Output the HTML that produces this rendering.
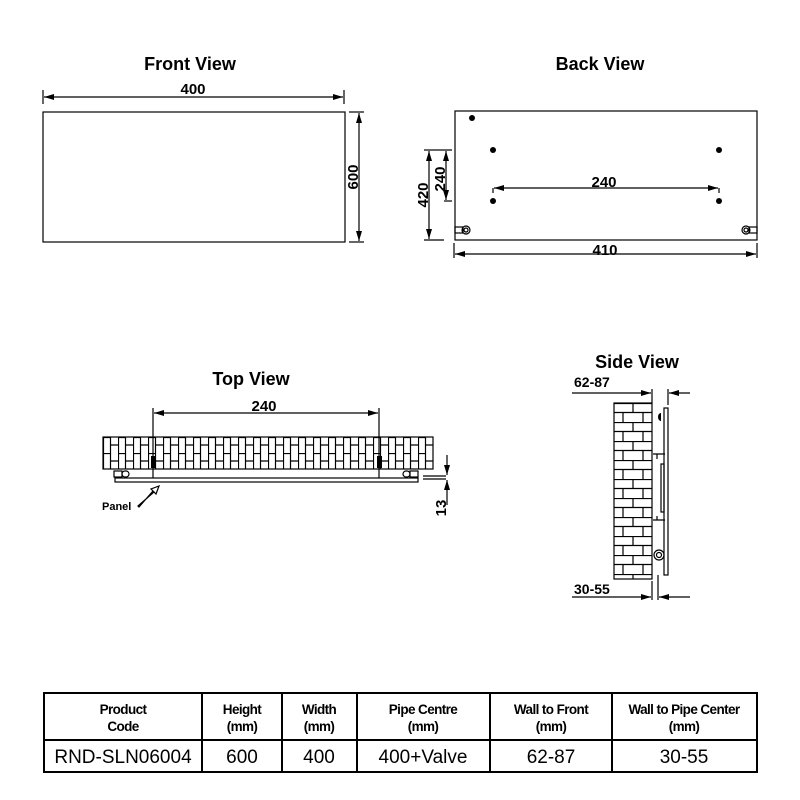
<!DOCTYPE html>
<html><head><style>
body{margin:0;background:#fff;}
svg{display:block;font-family:"Liberation Sans",Arial,sans-serif;}
</style></head><body>
<svg width="800" height="800" viewBox="0 0 800 800" xmlns="http://www.w3.org/2000/svg">
<defs>
<marker id="a" viewBox="0 0 10 6" refX="10" refY="3" markerWidth="10" markerHeight="6" orient="auto-start-reverse" markerUnits="userSpaceOnUse"><path d="M0,0 L10,3 L0,6 z" fill="#000"/></marker>
<pattern id="tb" x="103" y="437" width="15" height="16" patternUnits="userSpaceOnUse">
<rect width="15" height="16" fill="#fff"/>
<path d="M0,0.5 H7.5 M7.5,8 H15 M0.5,0 V16 M7.5,0 V16" stroke="#000" stroke-width="1.2" fill="none"/>
</pattern>
<pattern id="sb" x="614" y="403" width="38" height="19" patternUnits="userSpaceOnUse">
<rect width="38" height="19" fill="#fff"/>
<path d="M0,0.5 H38 M0,9.5 H38 M19,0 V9.5 M9,9.5 V19 M29,9.5 V19" stroke="#000" stroke-width="1.2" fill="none"/>
</pattern>
</defs>
<g font-weight="bold" font-size="18" text-anchor="middle">
<text x="190" y="70">Front View</text>
<text x="600" y="70">Back View</text>
<text x="251" y="385">Top View</text>
<text x="637" y="368">Side View</text>
</g>
<g stroke="#000" fill="none" stroke-width="1.2">
<rect x="43" y="112" width="302" height="130"/>
<line x1="43" y1="90" x2="43" y2="104"/><line x1="344" y1="90" x2="344" y2="104"/>
<line x1="44" y1="97" x2="343" y2="97" marker-start="url(#a)" marker-end="url(#a)"/>
<line x1="349" y1="112" x2="364" y2="112"/><line x1="349" y1="242" x2="364" y2="242"/>
<line x1="359" y1="113" x2="359" y2="241" marker-start="url(#a)" marker-end="url(#a)"/>
<rect x="455" y="111" width="302" height="129"/>
<line x1="493" y1="188" x2="493" y2="193"/><line x1="719" y1="188" x2="719" y2="193"/>
<line x1="494" y1="188" x2="718" y2="188" marker-start="url(#a)" marker-end="url(#a)"/>
<line x1="440" y1="150" x2="452" y2="150"/><line x1="444" y1="201" x2="452" y2="201"/>
<line x1="446" y1="151" x2="446" y2="200" marker-start="url(#a)" marker-end="url(#a)"/>
<line x1="424" y1="150" x2="440" y2="150"/><line x1="424" y1="240" x2="444" y2="240"/>
<line x1="429" y1="151" x2="429" y2="239" marker-start="url(#a)" marker-end="url(#a)"/>
<line x1="454" y1="243" x2="454" y2="258"/><line x1="757" y1="243" x2="757" y2="258"/>
<line x1="455" y1="254" x2="756" y2="254" marker-start="url(#a)" marker-end="url(#a)"/>
<rect x="455" y="227" width="8" height="6"/><circle cx="466" cy="230" r="4"/><circle cx="466" cy="230" r="2"/>
<rect x="749" y="227" width="8" height="6"/><circle cx="746" cy="230" r="4"/><circle cx="746" cy="230" r="2"/>
</g>
<g fill="#000">
<circle cx="472" cy="118" r="3"/><circle cx="493" cy="150" r="3"/><circle cx="719" cy="150" r="3"/>
<circle cx="493" cy="201" r="3"/><circle cx="719" cy="201" r="3"/>
</g>
<g font-weight="bold" font-size="15" text-anchor="middle">
<text x="193" y="94">400</text>
<text x="604" y="187">240</text>
<text x="605" y="255">410</text>
<text transform="translate(358,177) rotate(-90)">600</text>
<text transform="translate(445,179) rotate(-90)">240</text>
<text transform="translate(428,195) rotate(-90)">420</text>
<text x="264" y="411">240</text>
<text transform="translate(446,508) rotate(-90)">13</text>
</g>
<rect x="103" y="437" width="330" height="32" fill="url(#tb)" stroke="#000" stroke-width="1.2"/>
<g stroke="#000" fill="none" stroke-width="1.2">
<rect x="115" y="478" width="303" height="4" fill="#fff"/>
<line x1="153" y1="408" x2="153" y2="478"/><line x1="379" y1="408" x2="379" y2="478"/>
<line x1="154" y1="413" x2="378" y2="413" marker-start="url(#a)" marker-end="url(#a)"/>
<rect x="114" y="471" width="8" height="6"/><rect x="122" y="471" width="7" height="6" rx="3"/>
<rect x="410" y="471" width="8" height="6"/><rect x="403" y="471" width="7" height="6" rx="3"/>
<line x1="423" y1="476" x2="446" y2="476"/><line x1="423" y1="479" x2="446" y2="479"/>
<line x1="447" y1="455" x2="447" y2="475" marker-end="url(#a)"/>
<line x1="447" y1="505" x2="447" y2="480" marker-end="url(#a)"/>
<path d="M138,506 L154,492 L151,489 L159,486 L156,494 L153,491 L139,507 z"/>
</g>
<rect x="151" y="456" width="5" height="12" fill="#000"/>
<rect x="377" y="456" width="5" height="12" fill="#000"/>
<text x="102" y="510" font-size="11" font-weight="bold">Panel</text>
<rect x="614" y="403" width="38" height="176" fill="url(#sb)" stroke="#000" stroke-width="1.2"/>
<g stroke="#000" fill="none" stroke-width="1.2">
<rect x="664" y="408" width="4" height="167" fill="#fff"/>
<line x1="652" y1="389" x2="652" y2="403"/><line x1="668" y1="389" x2="668" y2="405"/>
<line x1="572" y1="393" x2="651" y2="393" marker-end="url(#a)"/>
<line x1="690" y1="393" x2="669" y2="393" marker-end="url(#a)"/>
<line x1="652" y1="581" x2="652" y2="600"/><line x1="658" y1="575" x2="658" y2="600"/>
<line x1="572" y1="597" x2="651" y2="597" marker-end="url(#a)"/>
<line x1="690" y1="597" x2="659" y2="597" marker-end="url(#a)"/>
<path d="M653,454 H665 M657,454 V459 M653,520 H665 M657,520 V516"/>
<rect x="661" y="464" width="3" height="48"/>
<circle cx="659" cy="555" r="5"/><circle cx="659" cy="555" r="2.5"/>
</g>
<path d="M661,413 a3,4 0 0 0 0,8 z" fill="#000"/>
<g font-weight="bold" font-size="14">
<text x="574" y="387">62-87</text>
<text x="574" y="594">30-55</text>
</g>
<g stroke="#000" stroke-width="2" fill="none">
<rect x="44" y="693" width="713" height="79"/>
<line x1="44" y1="740" x2="757" y2="740"/>
<line x1="202" y1="693" x2="202" y2="772"/><line x1="282" y1="693" x2="282" y2="772"/>
<line x1="357" y1="693" x2="357" y2="772"/><line x1="490" y1="693" x2="490" y2="772"/>
<line x1="612" y1="693" x2="612" y2="772"/>
</g>
<g font-size="13.5" font-weight="bold" text-anchor="middle" letter-spacing="-0.6">
<text x="123" y="714">Product</text><text x="123" y="731">Code</text>
<text x="242" y="714">Height</text><text x="242" y="731">(mm)</text>
<text x="319" y="714">Width</text><text x="319" y="731">(mm)</text>
<text x="423" y="714">Pipe Centre</text><text x="423" y="731">(mm)</text>
<text x="551" y="714">Wall to Front</text><text x="551" y="731">(mm)</text>
<text x="684" y="714">Wall to Pipe Center</text><text x="684" y="731">(mm)</text>
</g>
<g font-size="19" text-anchor="middle">
<text x="123" y="763">RND-SLN06004</text>
<text x="242" y="763">600</text>
<text x="319" y="763">400</text>
<text x="423" y="763">400+Valve</text>
<text x="551" y="763">62-87</text>
<text x="684" y="763">30-55</text>
</g>
</svg>
</body></html>
